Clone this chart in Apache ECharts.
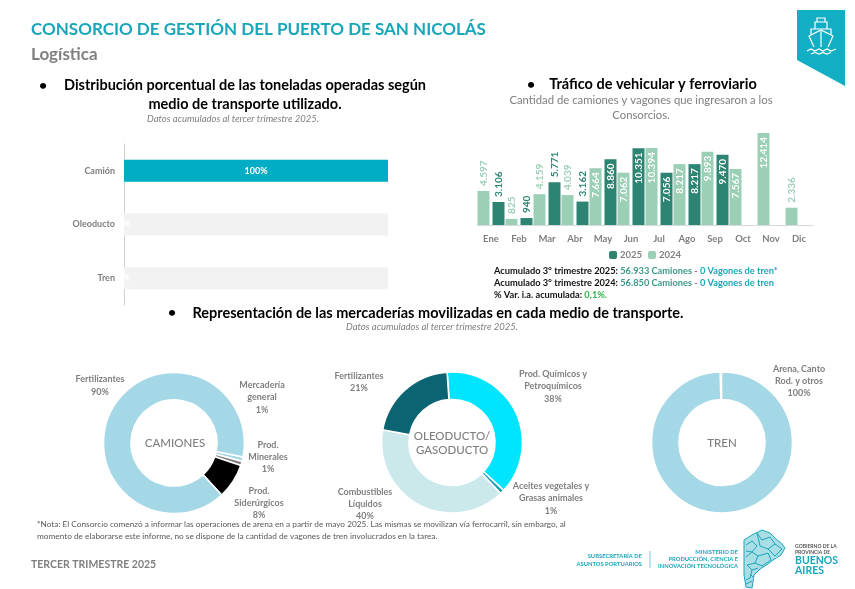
<!DOCTYPE html>
<html><head><meta charset="utf-8">
<style>html,body{margin:0;padding:0;background:#fff}#c{width:855px;height:589px}</style>
<script src="https://cdn.jsdelivr.net/npm/echarts@6/dist/echarts.min.js"></script>
</head><body><div id="c"></div>
<script>
const transportModes = ['Camión','Oleoducto','Tren'];
const transportShare = [100,0,0];
const months = ['Ene','Feb','Mar','Abr','May','Jun','Jul','Ago','Sep','Oct','Nov','Dic'];
const trucks2024 = [4597,825,4159,4039,7664,7062,10394,8217,9893,7567,12414,2336];
const trucks2025 = [3106,940,5771,3162,8860,10351,7056,8217,9470,null,null,null];
const camionesNames = ['Mercadería\ngeneral','Prod.\nMinerales','Prod.\nSiderúrgicos','Fertilizantes'];
const camionesValues = [1,1,8,90];
const oleoNames = ['Prod. Químicos y\nPetroquímicos','Aceites vegetales y\nGrasas animales','Combustibles\nLíquidos','Fertilizantes'];
const oleoValues = [38,1,40,21];
const trenNames = ['Arena, Canto\nRod. y otros'];
const trenValues = [100];

const FONT='Lato, "Noto Sans", sans-serif';
const TEAL='#1aa6ba', GRAY='#7f7f7f', DARK='#2e8472', LIGHT='#9bcfb6';
const fmt=v=>String(v).replace(/\B(?=(\d{3})+$)/g,'.');
const T=(x,y,text,o={})=>({type:'text',x,y,silent:true,style:{text,font:`${o.i?'italic ':''}${o.w||'bold'} ${o.s||9}px ${FONT}`,fill:o.c||GRAY,align:o.a||'left',verticalAlign:'middle'}});
const line=(pts,c='#fff',w=1.2)=>({type:'polyline',silent:true,shape:{points:pts},style:{stroke:c,lineWidth:w,fill:null}});

const barLabel=(v,color)=>{
  if(v==null) return {show:false};
  const inside=v>=7000;
  return {show:true,rotate:90,position:inside?'insideTop':'top',distance:inside?4:5,align:inside?'right':'left',verticalAlign:'middle',color:inside?'#fff':color,fontFamily:FONT,fontWeight:'bold',fontSize:10,formatter:()=>fmt(v)};
};
const colSeries=(name,vals,color)=>({name,type:'bar',xAxisIndex:1,yAxisIndex:1,barWidth:12,barGap:'25%',itemStyle:{color},data:vals.map(v=>({value:v,label:barLabel(v,color)}))});

const layouts={
 cam:[[262,397.5],[268,457],[259,503],[100,385.5]],
 ole:[[553,386.5],[551,498.5],[365,504],[359,382]],
 tren:[[799,381]]
};
const donut=(center,names,vals,colors,start,pos,end)=>({type:'pie',center,radius:[43,70.5],startAngle:start,endAngle:end,clockwise:true,avoidLabelOverlap:false,
  data:names.map((n,i)=>({name:n,value:vals[i],itemStyle:{color:colors[i]}})),
  itemStyle:{borderColor:'#fff',borderWidth:1.6},
  label:{show:true,position:'outside',formatter:p=>p.name+'\n'+p.value+'%',color:GRAY,fontFamily:FONT,fontWeight:'bold',fontSize:9,lineHeight:12.3,align:'center'},
  labelLine:{show:false},
  labelLayout:p=>({x:pos[p.dataIndex][0],y:pos[p.dataIndex][1],align:'center',verticalAlign:'middle'}),
  emphasis:{disabled:true},silent:true,animation:false});

const ship=[
 {type:'polygon',silent:true,shape:{points:[[797,10],[845,10],[845,86],[797,60]]},style:{fill:'#12afc4'}},
 line([[814,47],[809,36],[821,30],[833,36],[828,47]]),
 line([[811,35],[811,29],[831,29],[831,35]]),
 line([[815,29],[815,22],[827,22],[827,29]]),
 line([[817,22],[817,18],[825,18],[825,22]]),
 line([[821,31],[821,47]]),
 line([[807,51],[811,49],[815,51],[819,49],[823,51],[827,49],[831,51],[836,49]]),
 line([[811,54],[815,52.5],[819,54],[823,52.5],[827,54],[831,52.5]])
];
const map={type:'polygon',silent:true,shape:{points:[[744,540],[752,535],[762,530],[770,533],[776,539],[781,543],[785,548],[781,555],[773,560],[768,564],[760,569],[754,575],[753,582],[752,588],[746,587],[744,575]]},style:{fill:'#a9dee7',stroke:TEAL,lineWidth:1}};
const mapLines=[
 line([[746,545],[752,541],[757,546],[752,552],[746,551]],TEAL,1),
 line([[757,533],[762,540],[770,537],[775,544],[768,549],[760,546],[757,533]],TEAL,1),
 line([[775,544],[782,549],[775,556],[768,549]],TEAL,1),
 line([[746,557],[752,552],[758,556],[755,563],[747,565]],TEAL,1),
 line([[758,556],[768,553],[771,560],[762,566],[755,563]],TEAL,1),
 line([[747,565],[752,570],[750,578],[746,580]],TEAL,1),
 line([[752,570],[758,568]],TEAL,1),line([[746,584],[752,581]],TEAL,1),line([[750,574],[753,577]],TEAL,1)
];
const rich={k:{font:`bold 9.25px ${FONT}`,fill:'#111'},g:{font:`bold 9.25px ${FONT}`,fill:'#3a9a88'},m:{font:`bold 9.25px ${FONT}`,fill:GRAY},t:{font:`bold 9.25px ${FONT}`,fill:TEAL},p:{font:`bold 9.25px ${FONT}`,fill:'#2db34a'}};

const graphics=[
 T(31,30,'CONSORCIO DE GESTIÓN DEL PUERTO DE SAN NICOLÁS',{s:17,c:TEAL}),
 T(31,55,'Logística',{s:17,c:GRAY}),
 T(39,85,'•',{s:14,c:'#000'}),
 T(245,85,'Distribución porcentual de las toneladas operadas según',{s:14.5,c:'#000',a:'center'}),
 T(245,104,'medio de transporte utilizado.',{s:14.5,c:'#000',a:'center'}),
 T(233,119,'Datos acumulados al tercer trimestre 2025.',{s:9.5,c:GRAY,w:'normal',i:1,a:'center'}),
 T(527,84,'•',{s:14,c:'#000'}),
 T(653,84,'Tráfico de vehicular y ferroviario',{s:14.5,c:'#000',a:'center'}),
 T(641,100,'Cantidad de camiones y vagones que ingresaron a los',{s:11.3,c:GRAY,w:'normal',a:'center'}),
 T(641,115,'Consorcios.',{s:11.3,c:GRAY,w:'normal',a:'center'}),
 {type:'text',x:494,y:271,silent:true,style:{text:'{k|Acumulado 3° trimestre 2025: }{g|56.933 Camiones}{m| - }{t|0 Vagones de tren*}',verticalAlign:'middle',rich}},
 {type:'text',x:494,y:283,silent:true,style:{text:'{k|Acumulado 3° trimestre 2024: }{g|56.850 Camiones}{m| - }{t|0 Vagones de tren}',verticalAlign:'middle',rich}},
 {type:'text',x:494,y:295,silent:true,style:{text:'{k|% Var. i.a. acumulada: }{p|0,1%.}',verticalAlign:'middle',rich}},
 T(168,312,'•',{s:14,c:'#000'}),
 T(438,313,'Representación de las mercaderías movilizadas en cada medio de transporte.',{s:14.5,c:'#000',a:'center'}),
 T(432,327,'Datos acumulados al tercer trimestre 2025.',{s:9.5,c:GRAY,w:'normal',i:1,a:'center'}),
 T(175,443,'CAMIONES',{s:11.5,c:GRAY,w:'500',a:'center'}),
 T(452,436,'OLEODUCTO/',{s:11.5,c:GRAY,w:'500',a:'center'}),
 T(452,450,'GASODUCTO',{s:11.5,c:GRAY,w:'500',a:'center'}),
 T(722,443,'TREN',{s:11.5,c:GRAY,w:'500',a:'center'}),
 T(37,524,'*Nota: El Consorcio comenzó a informar las operaciones de arena en a partir de mayo 2025. Las mismas se movilizan vía ferrocarril, sin embargo, al',{s:8.28,c:'#595959',w:'normal'}),
 T(37,536,'momento de elaborarse este informe, no se dispone de la cantidad de vagones de tren involucrados en la tarea.',{s:8.28,c:'#595959',w:'normal'}),
 T(31,565,'TERCER TRIMESTRE 2025',{s:10.5,c:GRAY}),
 T(642,556,'SUBSECRETARÍA DE',{s:5.8,c:TEAL,a:'right'}),
 T(642,564,'ASUNTOS PORTUARIOS',{s:5.8,c:TEAL,a:'right'}),
 {type:'line',silent:true,shape:{x1:650,y1:551,x2:650,y2:568},style:{stroke:'#7cc9d6',lineWidth:1}},
 T(738,552,'MINISTERIO DE',{s:5.8,c:TEAL,a:'right'}),
 T(738,559,'PRODUCCIÓN, CIENCIA E',{s:5.8,c:TEAL,a:'right'}),
 T(738,566,'INNOVACIÓN TECNOLÓGICA',{s:5.8,c:TEAL,a:'right'}),
 T(795,546.5,'GOBIERNO DE LA',{s:5,c:'#555'}),
 T(795,552.5,'PROVINCIA DE',{s:5,c:'#555'}),
 T(795,560.5,'BUENOS',{s:10.5,c:TEAL}),
 T(795,570.5,'AIRES',{s:10.5,c:TEAL}),
 ...ship,map,...mapLines
];

const chart=echarts.init(document.getElementById('c'),null,{renderer:'canvas'});
chart.setOption({
 animation:false,backgroundColor:'#fff',textStyle:{fontFamily:FONT},
 grid:[{left:124,top:144,width:264,height:161},{left:477,top:121.3,width:336,height:103.7}],
 xAxis:[
  {gridIndex:0,type:'value',min:0,max:100,show:false},
  {gridIndex:1,type:'category',data:months,axisTick:{show:false},axisLine:{lineStyle:{color:'#d9d9d9'}},axisLabel:{color:GRAY,fontWeight:'bold',fontSize:9.5,fontFamily:FONT,margin:9}}
 ],
 yAxis:[
  {gridIndex:0,type:'category',inverse:true,data:transportModes,axisTick:{show:false},axisLine:{lineStyle:{color:'#d0d0d0'}},axisLabel:{color:GRAY,fontWeight:'bold',fontSize:9,fontFamily:FONT,margin:9}},
  {gridIndex:1,type:'value',min:0,max:14000,show:false,splitLine:{show:false}}
 ],
 legend:{show:true,data:['2025','2024'],left:604,top:245,itemWidth:8,itemHeight:8,itemGap:6,textStyle:{color:GRAY,fontWeight:'bold',fontSize:9.5,fontFamily:FONT,padding:[0,0,0,-2]},selectedMode:false},
 series:[
  {type:'bar',xAxisIndex:0,yAxisIndex:0,barWidth:22,showBackground:true,backgroundStyle:{color:'#f2f2f2'},itemStyle:{color:'#00adc4'},data:transportShare,
   label:{show:true,position:'inside',color:'#fff',fontWeight:'bold',fontSize:9,fontFamily:FONT,formatter:p=>p.value+'%'}},
  colSeries('2024',trucks2024,LIGHT),
  colSeries('2025',trucks2025,DARK),
  donut([174,443],camionesNames,camionesValues,['#a5d8e6','#808080','#000000','#a5d8e6'],-11.5,layouts.cam),
  donut([452,442.5],oleoNames,oleoValues,['#00e5ff','#1a9fb0','#cbe8ea','#0a6472'],94,layouts.ole),
  donut([722,442.5],trenNames,trenValues,['#a5d8e6'],90.5,layouts.tren,-268.5)
 ],
 graphic:{elements:graphics}
});
</script></body></html>
